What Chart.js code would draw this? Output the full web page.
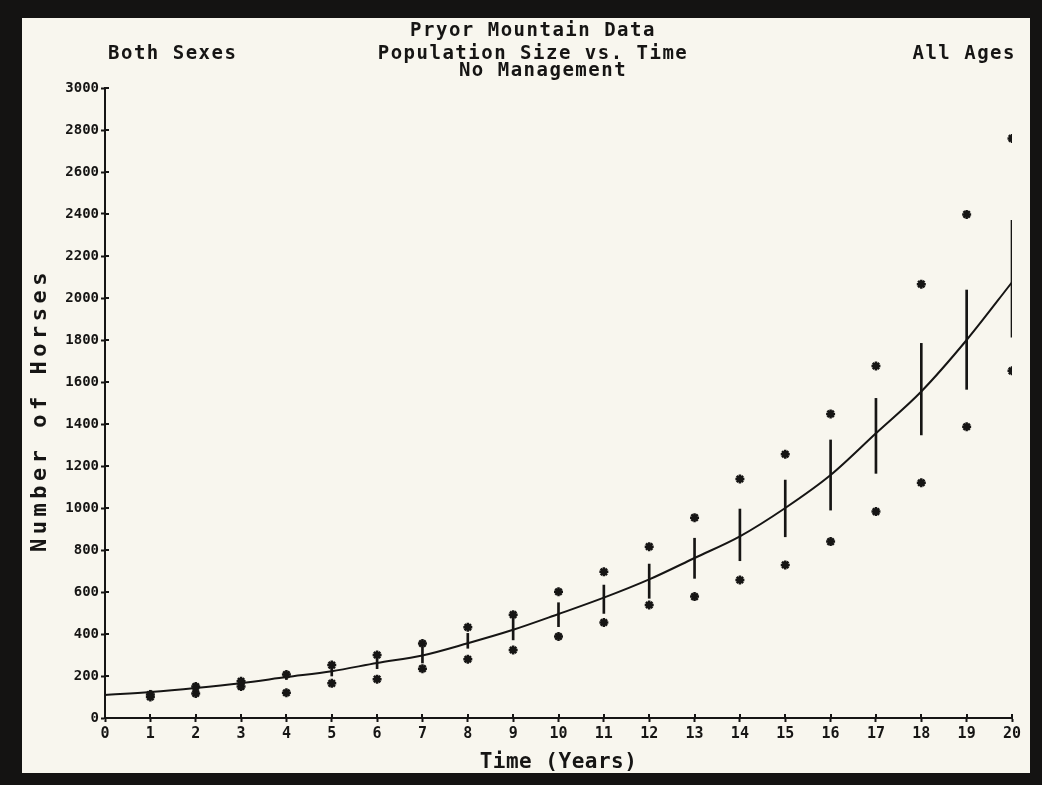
<!DOCTYPE html>
<html>
<head>
<meta charset="utf-8">
<script src="https://cdn.jsdelivr.net/npm/chart.js@4.4.1/dist/chart.umd.min.js"></script>
<style>
  html, body { margin: 0; padding: 0; background: #141312; }
  #wrap { width: 1042px; height: 785px; position: relative; }
  canvas { display: block; }
</style>
</head>
<body>
<div id="wrap"><canvas id="c" width="1042" height="785"></canvas></div>
<script>
// ---- Data ----
const years       = [0,1,2,3,4,5,6,7,8,9,10,11,12,13,14,15,16,17,18,19,20];
const meanHorses  = [110,124,143,166,195,223,262,298,356,420,495,573,660,762,865,1000,1157,1356,1555,1800,2075];
const errLow      = [null,118,133,157,183,200,235,262,332,372,435,498,570,665,749,863,990,1165,1348,1565,1814];
const errHigh     = [null,132,155,178,212,250,300,335,403,500,549,633,733,856,995,1133,1324,1522,1784,2038,2370];
const simHigh     = [null,112,150,175,207,252,300,355,432,492,601,696,816,954,1138,1256,1448,1676,2066,2398,2760];
const simLow      = [null,100,117,150,120,165,185,235,280,324,388,455,538,578,657,729,840,983,1120,1387,1653];
const xTickValues = [0,1,2,3,4,5,6,7,8,9,10,11,12,13,14,15,16,17,18,19,20];
const yTickValues = [0,200,400,600,800,1000,1200,1400,1600,1800,2000,2200,2400,2600,2800,3000];
const titleLines  = ['Pryor Mountain Data', 'Population Size vs. Time', 'No Management'];
const leftNote    = 'Both Sexes';
const rightNote   = 'All Ages';
const xTitle      = 'Time (Years)';
const yTitle      = 'Number of Horses';

const INK = '#161514';
const PAPER = '#f8f6ee';
const MONO = '"DejaVu Sans Mono", "Liberation Mono", monospace';

const pts = (vals) => years.map((x, i) => ({ x, y: vals[i] })).filter(p => p.y !== null);
const bars = years.map((x, i) => ({ x, y: [errLow[i], errHigh[i]] })).filter(p => p.y[0] !== null);

const framePlugin = {
  id: 'frame',
  beforeDraw(chart) {
    const ctx = chart.ctx;
    ctx.save();
    ctx.fillStyle = '#141312';
    ctx.fillRect(0, 0, chart.width, chart.height);
    ctx.fillStyle = PAPER;
    ctx.fillRect(22, 18, 1008, 755);
    ctx.restore();
  }
};

const innerTicks = {
  id: 'innerTicks',
  afterDatasetsDraw(chart) {
    const ctx = chart.ctx, xs = chart.scales.x, ys = chart.scales.y;
    ctx.save();
    ctx.strokeStyle = INK;
    ctx.lineWidth = 2;
    ctx.beginPath();
    xs.ticks.forEach(t => {
      const px = Math.round(xs.getPixelForValue(t.value));
      ctx.moveTo(px, ys.bottom);
      ctx.lineTo(px, ys.bottom - 4);
    });
    ys.ticks.forEach(t => {
      const py = Math.round(ys.getPixelForValue(t.value));
      ctx.moveTo(xs.left, py);
      ctx.lineTo(xs.left + 4, py);
    });
    ctx.stroke();
    ctx.restore();
  }
};

const textPlugin = {
  id: 'texts',
  afterDraw(chart) {
    const ctx = chart.ctx;
    const area = chart.chartArea;
    ctx.save();
    ctx.fillStyle = INK;
    ctx.textBaseline = 'middle';
    ctx.font = 'bold 19px ' + MONO;
    ctx.letterSpacing = '1.5px';
    ctx.textAlign = 'center';
    const cx = 533;
    ctx.fillText(titleLines[0], cx, 31);
    ctx.fillText(titleLines[1], cx, 54);
    ctx.fillText(titleLines[2], cx + 10, 71);
    ctx.textAlign = 'left';
    ctx.fillText(leftNote, 108, 54);
    ctx.textAlign = 'right';
    ctx.fillText(rightNote, 1016, 54);

    ctx.font = 'bold 21px ' + MONO;
    ctx.letterSpacing = '0.5px';
    ctx.textAlign = 'center';
    ctx.fillText(xTitle, (area.left + area.right) / 2, 763);

    ctx.translate(40, 410);
    ctx.rotate(-Math.PI / 2);
    ctx.font = 'bold 22px ' + MONO;
    ctx.letterSpacing = '4.5px';
    ctx.fillText(yTitle, 0, 0);
    ctx.restore();
  }
};

new Chart(document.getElementById('c'), {
  type: 'line',
  data: {
    datasets: [
      {
        type: 'bar',
        label: 'Range',
        data: bars,
        backgroundColor: INK,
        borderWidth: 0,
        barThickness: 2,
        order: 3
      },
      {
        type: 'line',
        label: 'Mean',
        data: pts(meanHorses),
        borderColor: INK,
        borderWidth: 2,
        pointRadius: 0,
        cubicInterpolationMode: 'monotone',
        fill: false,
        order: 2
      },
      {
        type: 'scatter',
        label: 'High',
        data: pts(simHigh),
        pointStyle: 'star',
        pointRadius: 4.5,
        borderWidth: 2.5,
        borderColor: INK,
        backgroundColor: INK,
        showLine: false,
        order: 1
      },
      {
        type: 'scatter',
        label: 'Low',
        data: pts(simLow),
        pointStyle: 'star',
        pointRadius: 4.5,
        borderWidth: 2.5,
        borderColor: INK,
        backgroundColor: INK,
        showLine: false,
        order: 1
      }
    ]
  },
  options: {
    responsive: false,
    animation: false,
    devicePixelRatio: 1,
    layout: { padding: { top: 88, left: 28, right: 30, bottom: 0 } },
    plugins: {
      legend: { display: false },
      title: { display: false },
      tooltip: { enabled: false }
    },
    scales: {
      x: {
        type: 'linear',
        min: 0, max: 20,
        offset: false,
        afterBuildTicks: s => { s.ticks = xTickValues.map(v => ({ value: v })); },
        afterFit: s => { s.height = 67; },
        ticks: {
          color: INK,
          font: { family: MONO, size: 15, weight: 'bold' },
          padding: 3,
          maxRotation: 0,
          autoSkip: false,
          callback: v => String(v)
        },
        grid: { offset: false, drawOnChartArea: false, drawTicks: true, tickLength: 4, tickColor: INK, tickWidth: 2 },
        border: { color: INK, width: 2 }
      },
      y: {
        type: 'linear',
        min: 0, max: 3000,
        afterBuildTicks: s => { s.ticks = yTickValues.map(v => ({ value: v })); },
        afterFit: s => { s.width = 77; },
        ticks: {
          color: INK,
          font: { family: MONO, size: 14, weight: 'bold' },
          padding: 2,
          autoSkip: false,
          callback: v => String(v)
        },
        grid: { offset: false, drawOnChartArea: false, drawTicks: true, tickLength: 4, tickColor: INK, tickWidth: 2 },
        border: { color: INK, width: 2 }
      }
    }
  },
  plugins: [framePlugin, innerTicks, textPlugin]
});
</script>
</body>
</html>
